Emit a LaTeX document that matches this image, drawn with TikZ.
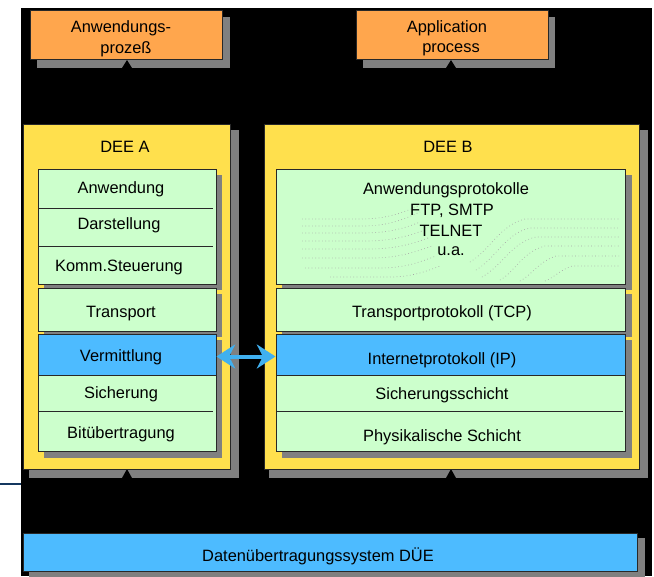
\documentclass[tikz,border=0pt]{standalone}
\usepackage{fontspec}
\setmainfont{Liberation Sans}
\usetikzlibrary{arrows.meta,fit}
\definecolor{orangebox}{RGB}{255,166,77}
\definecolor{yellowbox}{RGB}{255,224,77}
\definecolor{greenbox}{RGB}{204,255,204}
\definecolor{bluebox}{RGB}{77,187,255}
\definecolor{shadowgray}{RGB}{128,128,128}
\definecolor{edgecol}{RGB}{40,40,40}
\definecolor{navyline}{RGB}{20,55,95}
\definecolor{arrowblue}{RGB}{64,176,240}
\begin{document}
\begin{tikzpicture}[x=0.75pt,y=-0.75pt,
  boxed/.style={draw=edgecol, line width=0.75pt, inner sep=0pt},
  shade/.style={fill=shadowgray, draw=none, inner sep=0pt},
  lbl/.style={font=\fontsize{12.3}{15.5}\selectfont, text=black, inner sep=0pt, align=center, yshift=-1pt},
  notchmark/.style={fill=black},
  divider/.style={draw=edgecol, line width=0.75pt},
  wave/.style={draw=gray!70, line width=0.5pt, dotted}]
\useasboundingbox (0,0) rectangle (654,576);
\fill[white] (0,0) rectangle (654,576);
\fill[black] (21,8) rectangle (652,576);
\coordinate (navyL) at (0,484);
\coordinate (navyR) at (21,484);
\draw[navyline, line width=1.5pt] (navyL) -- (navyR);

% ---------- orange application boxes ----------
\node[shade, fit={(37,17)(230,68)}] (shAppA) {};
\fill[notchmark] (122,68) -- (127,60) -- (132,68) -- cycle;
\node[boxed, fill=orangebox, fit={(30,10)(222,59)}] (appA) {};
\node[lbl] (tAppA1) at (121,27) {Anwendungs-};
\node[lbl] (tAppA2) at (126,48) {prozeß};

\node[shade, fit={(363,17)(555,68)}] (shAppB) {};
\fill[notchmark] (446,68) -- (451,60) -- (456,68) -- cycle;
\node[boxed, fill=orangebox, fit={(356,10)(548,59)}] (appB) {};
\node[lbl] (tAppB1) at (447,27) {Application};
\node[lbl] (tAppB2) at (451,48) {process};

% ---------- yellow DEE boxes ----------
\node[shade, fit={(29,130)(239,478)}] (shDeeA) {};
\fill[notchmark] (122,478) -- (127,469) -- (132,478) -- cycle;
\node[boxed, fill=yellowbox, fit={(23,124)(230,469)}] (deeA) {};
\node[lbl] (tDeeA) at (125,146) {DEE A};

\node[shade, fit={(269,130)(648,478)}] (shDeeB) {};
\fill[notchmark] (446,478) -- (451,469) -- (456,478) -- cycle;
\node[boxed, fill=yellowbox, fit={(264,124)(639,469)}] (deeB) {};
\node[lbl] (tDeeB) at (448,146) {DEE B};

% ---------- DEE A layers ----------
\node[shade, fit={(44,175)(222,290)}] (shA1) {};
\node[shade, fit={(44,294)(222,337)}] (shA2) {};
\node[shade, fit={(44,340)(222,458)}] (shA3) {};

\node[boxed, fill=greenbox, fit={(38,169)(216,284)}] (grpA1) {};
\draw[divider] (38,208) -- (213,208);
\draw[divider] (38,246) -- (213,246);
\node[lbl] (tAnw) at (121,188) {Anwendung};
\node[lbl] (tDar) at (119,224) {Darstellung};
\node[lbl] (tKomm) at (119,266) {Komm.Steuerung};

\node[boxed, fill=greenbox, fit={(38,288)(216,331)}] (trA) {};
\node[lbl] (tTrA) at (121,312) {Transport};

\node[boxed, fill=greenbox, fit={(38,334)(216,451)}] (grpA3) {};
\node[boxed, fill=bluebox, fit={(38,334)(216,375)}] (verA) {};
\draw[divider] (38,411) -- (213,411);
\node[lbl] (tVer) at (121,356) {Vermittlung};
\node[lbl] (tSich) at (121,393) {Sicherung};
\node[lbl] (tBit) at (121,433) {Bitübertragung};

% ---------- DEE B layers ----------
\node[shade, fit={(282,175)(632,290)}] (shB1) {};
\node[shade, fit={(282,294)(632,337)}] (shB2) {};
\node[shade, fit={(282,340)(632,458)}] (shB3) {};

\node[boxed, fill=greenbox, fit={(276,169)(625,284)}] (grpB1) {};
% dotted texture
\draw[wave] (302,219) -- (360,219) .. controls (385,219) and (400,214) .. (418,206);
\draw[wave] (302,226) -- (362,226) .. controls (388,226) and (402,220) .. (420,212);
\draw[wave] (302,233) -- (362,233) .. controls (390,233) and (405,228) .. (420,222);
\draw[wave] (302,241) -- (365,241) .. controls (392,241) and (408,236) .. (425,230);
\draw[wave] (302,249) -- (368,249) .. controls (395,249) and (412,244) .. (428,238);
\draw[wave] (302,258) -- (372,258) .. controls (398,258) and (415,252) .. (432,246);
\draw[wave] (305,268) -- (380,268) .. controls (405,268) and (420,262) .. (436,256);
\draw[wave] (330,277) -- (390,277) .. controls (410,277) and (425,272) .. (440,266);
\draw[wave] (470,262) .. controls (490,250) and (500,225) .. (525,219) -- (620,219);
\draw[wave] (476,270) .. controls (496,258) and (506,233) .. (530,228) -- (620,228);
\draw[wave] (482,277) .. controls (502,266) and (512,242) .. (536,237) -- (620,237);
\draw[wave] (500,280) .. controls (515,272) and (522,252) .. (545,246) -- (620,246);
\draw[wave] (520,281) .. controls (532,275) and (538,262) .. (556,256) -- (620,256);
\draw[wave] (545,281) .. controls (555,277) and (560,270) .. (572,266) -- (620,266);
\node[lbl] (tAP1) at (446,189) {Anwendungsprotokolle};
\node[lbl] (tAP2) at (452,209) {FTP, SMTP};
\node[lbl] (tAP3) at (451,230) {TELNET};
\node[lbl] (tAP4) at (451,250) {u.a.};

\node[boxed, fill=greenbox, fit={(276,288)(625,331)}] (trB) {};
\node[lbl] (tTrB) at (442,312) {Transportprotokoll (TCP)};

\node[boxed, fill=greenbox, fit={(276,334)(625,451)}] (grpB3) {};
\node[boxed, fill=bluebox, fit={(276,334)(625,375)}] (ipB) {};
\draw[divider] (276,411) -- (623,411);
\node[lbl] (tIP) at (442,359) {Internetprotokoll (IP)};
\node[lbl] (tSichB) at (442,394) {Sicherungsschicht};
\node[lbl] (tPhy) at (442,436) {Physikalische Schicht};

% ---------- arrow ----------
\draw[arrowblue, line width=3pt,
  {Stealth[length=14pt,width=18pt,inset=4.5pt]}-{Stealth[length=14pt,width=18pt,inset=4.5pt]}]
  ([yshift=-1.5pt]verA.east) -- ([yshift=-1.5pt]ipB.west);

% ---------- DUE ----------
\node[shade, fit={(29,538)(645,577)}] (shDue) {};
\node[boxed, fill=bluebox, fit={(23,533)(637,571)}] (due) {};
\node[lbl] (tDue) at (318,555) {Datenübertragungssystem DÜE};
\end{tikzpicture}
\end{document}
